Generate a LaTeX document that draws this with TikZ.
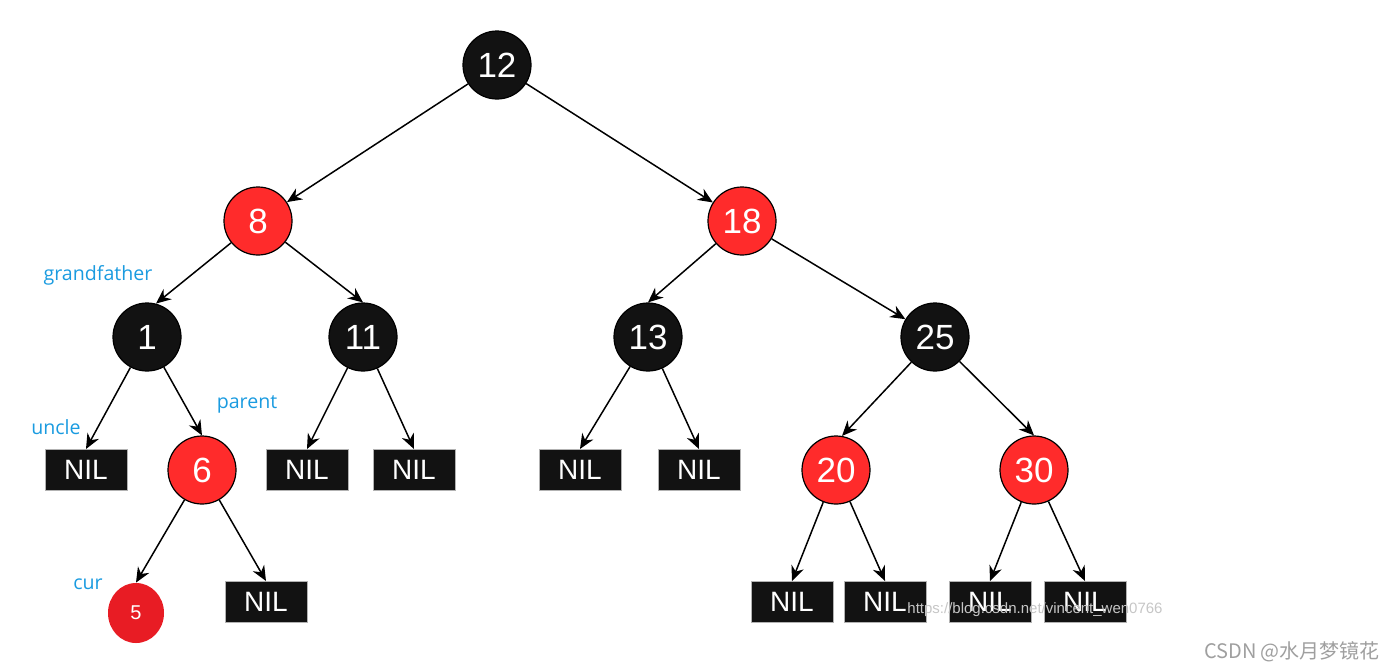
\documentclass[tikz,border=0pt]{standalone}
\usepackage{fontspec}
\setmainfont{Liberation Sans}
\newfontfamily\tagfont{Open Sans}
\newfontfamily\cjkfont{Noto Sans CJK SC}
\usetikzlibrary{arrows.meta, shapes.geometric}
\definecolor{rbred}{HTML}{FF2B2B}
\definecolor{rbblack}{HTML}{121212}
\definecolor{curred}{HTML}{E81C24}
\definecolor{tagblue}{HTML}{1A9BE0}

\tikzset{
  blacknode/.style={circle, draw=black, line width=0.6pt, fill=rbblack, text=white,
    minimum size=34pt, inner sep=0pt, font=\fontsize{17.5}{18}\selectfont},
  rednode/.style={blacknode, fill=rbred},
  nilbox/.style={rectangle, draw=gray!60, line width=0.5pt, fill=rbblack, text=white,
    minimum width=41pt, minimum height=20.5pt, inner sep=0pt, font=\fontsize{14}{14}\selectfont},
  tag/.style={text=tagblue, font=\tagfont\fontsize{9.8}{10}\selectfont},
  edge/.style={-{Stealth[length=7.5pt,width=6.5pt]}, line width=0.75pt},
}

\begin{document}
\begin{tikzpicture}[x=0.5pt, y=-0.5pt]
    \useasboundingbox (0,0) rectangle (1392,671);

    % tree nodes
    \node[blacknode] (n12) at (497,65) {12};
    \node[rednode] (n8) at (258,221) {8};
    \node[rednode] (n18) at (742,221) {18};
    \node[blacknode] (n1) at (147,337) {1};
    \node[blacknode] (n11) at (363,337) {11};
    \node[blacknode] (n13) at (648,337) {13};
    \node[blacknode] (n25) at (935,337) {25};
    \node[rednode] (n6) at (202,470) {6};
    \node[rednode] (n20) at (836,470) {20};
    \node[rednode] (n30) at (1034,470) {30};
    \node[ellipse, fill=curred, text=white, minimum width=28pt, minimum height=30pt,
          inner sep=0pt, font=\fontsize{10}{10}\selectfont] (n5) at (136,613) {5};

    % NIL leaves
    \node[nilbox] (nil1) at (86,470) {NIL};
    \node[nilbox] (nil11a) at (307,470) {NIL};
    \node[nilbox] (nil11b) at (414,470) {NIL};
    \node[nilbox] (nil13a) at (580,470) {NIL};
    \node[nilbox] (nil13b) at (699,470) {NIL};
    \node[nilbox] (nil6) at (266,602) {NIL};
    \node[nilbox] (nil20a) at (792,602) {NIL};
    \node[nilbox] (nil20b) at (885,602) {NIL};
    \node[nilbox] (nil30a) at (990,602) {NIL};
    \node[nilbox] (nil30b) at (1085,602) {NIL};

    % edges
    \draw[edge] (n12) -- (n8);
    \draw[edge] (n12) -- (n18);
    \draw[edge] (n8) -- (n1.75);
    \draw[edge] (n8) -- (n11.north);
    \draw[edge] (n18) -- (n13.north);
    \draw[edge] (n18) -- (n25);
    \draw[edge] (n1) -- (nil1.north);
    \draw[edge] (n1) -- (n6.north);
    \draw[edge] (n11) -- (nil11a.north);
    \draw[edge] (n11) -- (nil11b.north);
    \draw[edge] (n13) -- (nil13a.north);
    \draw[edge] (n13) -- (nil13b.north);
    \draw[edge] (n25) -- (n20.80);
    \draw[edge] (n25) -- (n30.north);
    \draw[edge] (n6) -- (n5.north);
    \draw[edge] (n6) -- (nil6.north);
    \draw[edge] (n20) -- (nil20a.north);
    \draw[edge] (n20) -- (nil20b.north);
    \draw[edge] (n30) -- (nil30a.north);
    \draw[edge] (n30) -- (nil30b.north);

    % role labels
    \node[tag] (grandfather) at (98,275) {grandfather};
    \node[tag] (parent) at (247,404) {parent};
    \node[tag] (uncle) at (56,427) {uncle};
    \node[tag] (cur) at (88,584) {cur};

    % watermarks
    \node[text=gray!45, font=\fontsize{7.5}{8}\selectfont] (wm) at (1035,610)
      {https://blog.csdn.net/vincent\_wen0766};
    \node[text=gray!75, font=\cjkfont\fontsize{10}{10}\selectfont] (csdn) at (1292,652)
      {CSDN @水月梦镜花};
\end{tikzpicture}
\end{document}
